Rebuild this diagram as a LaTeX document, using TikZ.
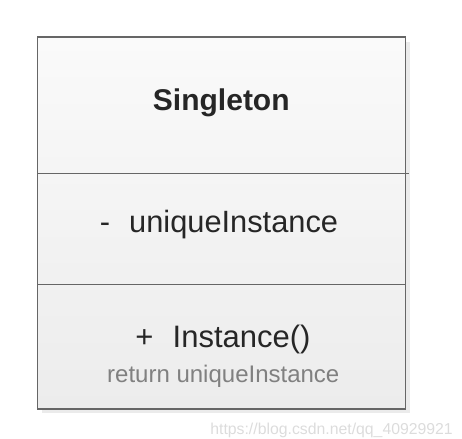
\documentclass[tikz,border=0pt]{standalone}
\usepackage{fontspec}
\setmainfont{Liberation Sans}
\definecolor{edge}{HTML}{666666}
\definecolor{ink}{HTML}{262626}
\definecolor{note}{HTML}{808080}
\definecolor{shadowc}{HTML}{EBEBEB}
\definecolor{topfill}{HTML}{FAFAFA}
\definecolor{botfill}{HTML}{ECECEC}
\definecolor{wm}{HTML}{DCDCDC}
\tikzset{
  txt/.style={inner sep=0pt, anchor=base, text=ink},
  divider/.style={draw=edge, line width=1.2pt},
}
\begin{document}
\begin{tikzpicture}[x=1pt,y=1pt]
\useasboundingbox (0,0) rectangle (462,438);
% shadow
\fill[shadowc] (42,24.5) rectangle (410,396);
% class box
\shade[top color=topfill, bottom color=botfill] (37.3,29) rectangle (405.3,401);
\draw[edge, line width=1.2pt] (37.3,29) rectangle (405.3,401);
% dividers
\coordinate (d1a) at (37.3,264.7);
\coordinate (d1b) at (409,264.7);
\coordinate (d2a) at (37.3,153.7);
\coordinate (d2b) at (405.3,153.7);
\draw[divider] (d1a) -- (d1b);
\draw[divider] (d2a) -- (d2b);
% texts
\node[txt, font=\fontsize{30}{36}\selectfont\bfseries] (name) at (221.3,327) {Singleton};
\node[txt, font=\fontsize{30.8}{36}\selectfont] (attr) at (219,205) {-\hspace{0.62em}uniqueInstance};
\node[txt, font=\fontsize{31}{36}\selectfont] (meth) at (223,90) {+\hspace{0.62em}Instance()};
\node[txt, text=note, font=\fontsize{24}{29}\selectfont] (ret) at (223.3,55) {return uniqueInstance};
\node[inner sep=0pt, anchor=base east, text=wm, font=\fontsize{15.8}{19}\selectfont] (mark) at (453,3) {https://blog.csdn.net/qq\_40929921};
\end{tikzpicture}
\end{document}
